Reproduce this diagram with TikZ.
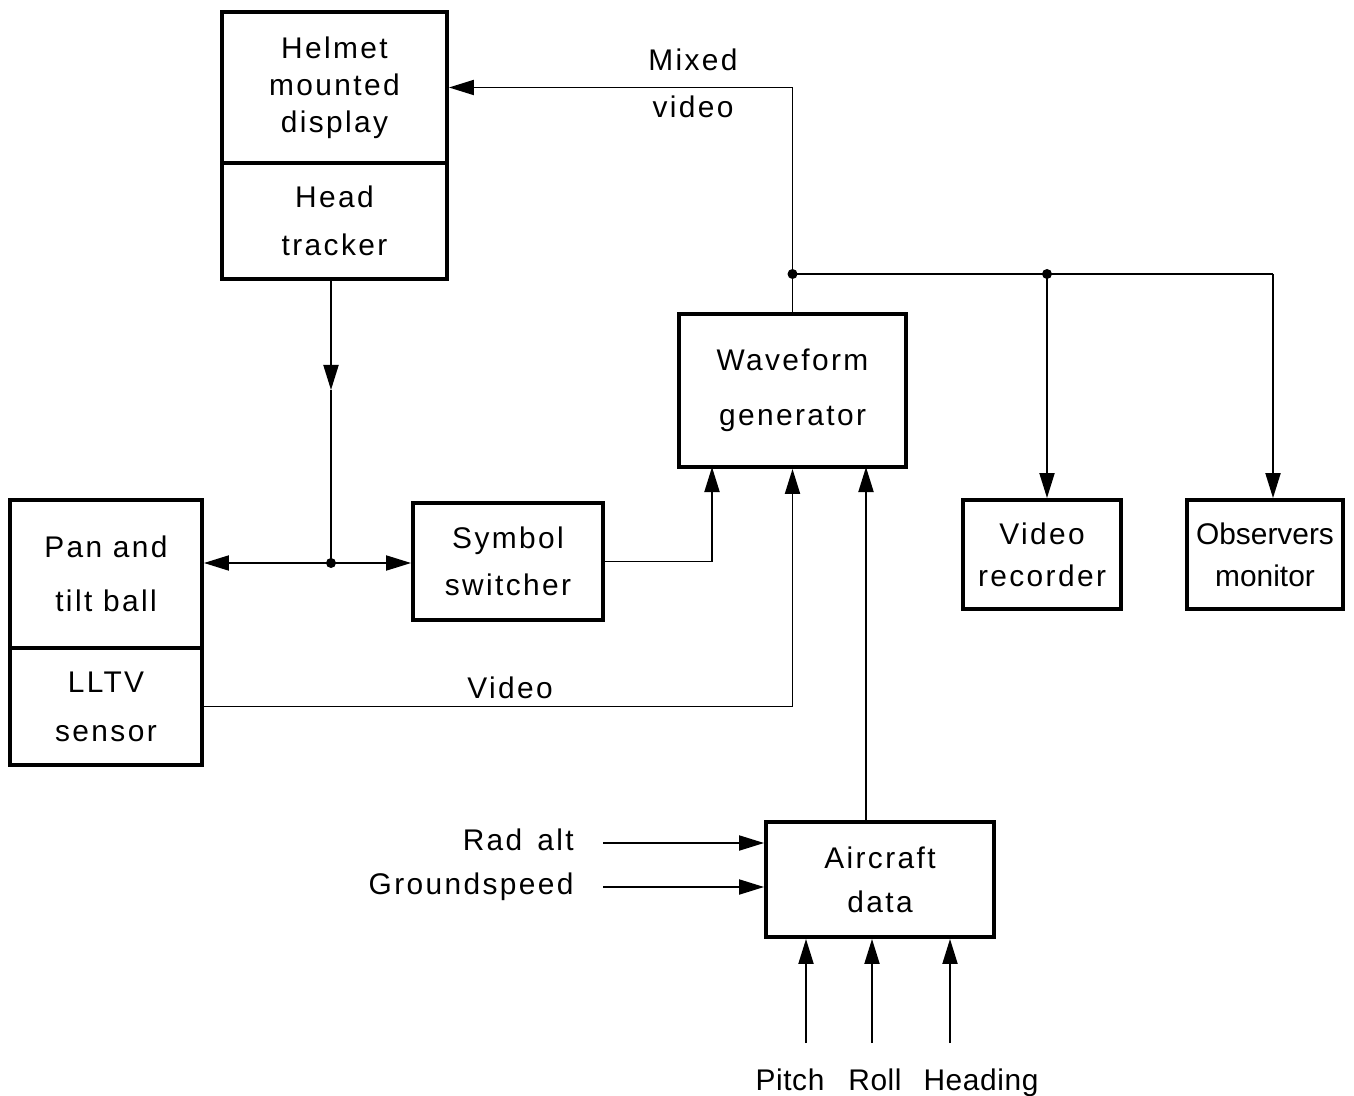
\documentclass[tikz,border=0pt]{standalone}
\usepackage{fontspec}
\setmainfont{Liberation Sans}[LetterSpace=8]
\usetikzlibrary{arrows.meta,calc}
\begin{document}
\begin{tikzpicture}[
  box/.style={draw, line width=2.2pt, align=center, inner sep=0pt},
  lead/.style={font=\fontsize{17}{#1}\selectfont},
  lab/.style={font=\fontsize{17}{27}\selectfont, align=center, inner sep=0pt},
  conn/.style={line width=1.1pt},
  arr/.style={conn, -{Triangle[length=0.5cm, width=0.3cm]}},
  dot/.style={circle, fill, inner sep=0pt, minimum size=0.2cm}
]
\useasboundingbox (0,0) rectangle (27.08,-21.92);
% boxes
\node[box, lead=21pt, minimum width=4.5cm, minimum height=3.02cm] (helmet) at (6.69,-1.75) {Helmet\\mounted\\display};
\node[box, lead=27pt, minimum width=4.5cm, minimum height=2.32cm] (tracker) at (6.69,-4.42) {Head\\tracker};
\node[box, lead=31pt, minimum width=3.84cm, minimum height=2.96cm] (pan) at (2.12,-11.48) {Pan and\\tilt ball};
\node[box, lead=28pt, minimum width=3.84cm, minimum height=2.34cm] (lltv) at (2.12,-14.13) {LLTV\\sensor};
\node[box, lead=27pt, minimum width=3.8cm, minimum height=2.34cm] (sym) at (10.16,-11.23) {Symbol\\switcher};
\node[box, lead=31pt, minimum width=4.54cm, minimum height=3.06cm] (wave) at (15.85,-7.81) {Waveform\\generator};
\node[box, lead=24pt, minimum width=3.16cm, minimum height=2.18cm] (vrec) at (20.84,-11.09) {Video\\recorder};
\node[box, lead=24pt, minimum width=3.12cm, minimum height=2.18cm] (obs) at (25.3,-11.09) {\addfontfeature{LetterSpace=0}Observers\\\addfontfeature{LetterSpace=0}monitor};
\node[box, lead=25pt, minimum width=4.56cm, minimum height=2.3cm] (air) at (17.6,-17.59) {Aircraft\\data};
% coordinates
\coordinate (J1) at (15.85,-5.48);
\coordinate (J2) at (20.94,-5.48);
\coordinate (J3) at (25.46,-5.48);
\coordinate (J4) at (6.62,-11.26);
\coordinate (M1) at (6.62,-7.8);
\coordinate (W1) at (14.24,-9.34);
\coordinate (W3) at (17.32,-9.34);
\coordinate (R1) at (12.06,-16.86);
\coordinate (G1) at (12.06,-17.74);
\coordinate (P1) at (16.12,-20.86);
\coordinate (P2) at (17.44,-20.86);
\coordinate (P3) at (19.0,-20.86);
% connectors
\draw[conn] (wave.north) -- (J1);
\draw[arr] (J1) |- (helmet.east);
\draw[conn] (J1) -- (J3);
\draw[arr] (J2) -- (J2 |- vrec.north);
\draw[arr] (J3) -- (J3 |- obs.north);
\draw[arr] (tracker.south -| J4) -- (M1);
\draw[conn] (M1) -- (J4);
\draw[arr] (J4) -- (J4 -| pan.east);
\draw[arr] (J4) -- (J4 -| sym.west);
\draw[arr] (sym.east) -| (W1);
\draw[arr] (lltv.east) -| (wave.south);
\draw[arr] (W3 |- air.north) -- (W3);
\draw[arr] (R1) -- (R1 -| air.west);
\draw[arr] (G1) -- (G1 -| air.west);
\draw[arr] (P1) -- (P1 |- air.south);
\draw[arr] (P2) -- (P2 |- air.south);
\draw[arr] (P3) -- (P3 |- air.south);
\node[dot] (d1) at (J1) {};
\node[dot] (d2) at (J2) {};
\node[dot] (d4) at (J4) {};
% labels
\node[lab] (mixed) at (13.86,-1.67) {Mixed\\video};
\node[lab] (vid) at (10.2,-13.76) {Video};
\node[lab, anchor=east] (rad) at (11.48,-16.8) {Rad\hspace{0.5em}alt};
\node[lab, anchor=east] (gs) at (11.48,-17.74) {Groundspeed};
\node[lab, anchor=base] (pitch) at (15.8,-21.8) {\addfontfeature{LetterSpace=2}Pitch};
\node[lab, anchor=base] (roll) at (17.5,-21.8) {\addfontfeature{LetterSpace=2}Roll};
\node[lab, anchor=base] (head) at (19.62,-21.8) {\addfontfeature{LetterSpace=2}Heading};
\end{tikzpicture}
\end{document}
